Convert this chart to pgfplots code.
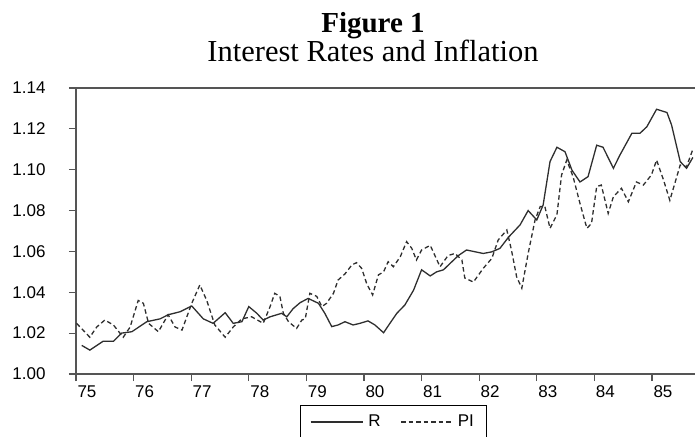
\documentclass[border=0pt]{standalone}
\usepackage{pgfplots}
\pgfplotsset{compat=1.18}
\usepackage{fontspec}
\setmainfont{Liberation Serif}
\newfontfamily\tickfont{Liberation Sans}
\usetikzlibrary{calc}

\definecolor{lineclr}{HTML}{2E2E2E}
\definecolor{axclr}{HTML}{555555}

\pgfplotstableread{
x y
75.10 1.0140
75.24 1.0117
75.47 1.0160
75.65 1.0160
75.79 1.0200
75.97 1.0207
76.23 1.0256
76.46 1.0270
76.60 1.0290
76.81 1.0305
77.01 1.0333
77.21 1.0270
77.38 1.0248
77.59 1.0300
77.73 1.0248
77.88 1.0256
78.00 1.0330
78.14 1.0297
78.25 1.0264
78.37 1.0280
78.57 1.0297
78.66 1.0280
78.77 1.0320
78.89 1.0349
79.03 1.0370
79.21 1.0346
79.32 1.0297
79.44 1.0232
79.55 1.0240
79.67 1.0256
79.81 1.0240
79.93 1.0248
80.07 1.0260
80.19 1.0240
80.34 1.0202
80.45 1.0248
80.57 1.0297
80.71 1.0338
80.86 1.0410
81.00 1.0510
81.15 1.0480
81.26 1.0500
81.38 1.0510
81.49 1.0540
81.64 1.0580
81.78 1.0607
82.07 1.0590
82.22 1.0598
82.36 1.0615
82.51 1.0670
82.71 1.0730
82.85 1.0800
83.00 1.0754
83.11 1.0827
83.23 1.1040
83.35 1.1110
83.49 1.1088
83.61 1.0998
83.75 1.0940
83.89 1.0966
84.04 1.1120
84.15 1.1110
84.33 1.1007
84.44 1.1070
84.65 1.1178
84.79 1.1178
84.91 1.1210
85.08 1.1296
85.26 1.1280
85.34 1.1219
85.49 1.1040
85.60 1.1007
85.71 1.1060
}\rdata

\pgfplotstableread{
x y
75.01 1.0248
75.24 1.0180
75.36 1.0230
75.50 1.0264
75.65 1.0240
75.82 1.0180
75.94 1.0230
76.08 1.0360
76.17 1.0346
76.26 1.0248
76.43 1.0207
76.60 1.0290
76.72 1.0230
76.84 1.0215
77.01 1.0346
77.15 1.0436
77.27 1.0360
77.41 1.0240
77.59 1.0180
77.73 1.0230
77.88 1.0270
78.05 1.0280
78.25 1.0248
78.37 1.0330
78.45 1.0395
78.54 1.0380
78.60 1.0297
78.69 1.0256
78.83 1.0223
78.92 1.0264
78.98 1.0270
79.06 1.0395
79.18 1.0380
79.27 1.0330
79.35 1.0346
79.47 1.0395
79.55 1.0460
79.67 1.0490
79.79 1.0534
79.87 1.0545
79.96 1.0517
80.05 1.0440
80.15 1.0387
80.25 1.0485
80.34 1.0500
80.42 1.0550
80.51 1.0525
80.63 1.0574
80.74 1.0648
80.83 1.0615
80.91 1.0558
81.00 1.0607
81.15 1.0630
81.32 1.0525
81.46 1.0580
81.58 1.0590
81.70 1.0558
81.75 1.0470
81.90 1.0450
82.07 1.0517
82.22 1.0566
82.33 1.0656
82.48 1.0705
82.56 1.0607
82.65 1.0476
82.74 1.0420
82.85 1.0590
82.97 1.0754
83.06 1.0820
83.14 1.0820
83.23 1.0713
83.35 1.0780
83.43 1.0974
83.52 1.1047
83.63 1.0966
83.75 1.0835
83.87 1.0713
83.95 1.0737
84.04 1.0917
84.12 1.0925
84.24 1.0786
84.33 1.0868
84.47 1.0909
84.59 1.0843
84.73 1.0940
84.85 1.0925
84.99 1.0974
85.08 1.1047
85.20 1.0950
85.31 1.0850
85.49 1.1023
85.60 1.1015
85.71 1.1100
}\pidata

\begin{document}
\begin{tikzpicture}
\begin{axis}[
    scale only axis,
    width=619pt,
    height=286pt,
    xmin=75, xmax=85.747,
    ymin=1.00, ymax=1.14,
    axis x line*=box,
    axis y line*=left,
    axis line style={axclr, line width=1.4pt},
    xtick={75,76,...,85},
    ytick={1.00,1.02,...,1.14},
    xtick pos=bottom,
    ytick pos=left,
    tick align=outside,
    major tick length=7pt,
    tick style={axclr, line width=1.2pt},
    xticklabel style={anchor=north west, xshift=-2pt, yshift=-1pt},
    xticklabel={\pgfmathprintnumber[int detect]{\tick}},
    yticklabel style={xshift=-20pt, /pgf/number format/fixed, /pgf/number format/fixed zerofill, /pgf/number format/precision=2},
    /pgf/number format/assume math mode=true,
    ticklabel style={font=\tickfont\fontsize{17}{20}\selectfont, text=black},
    legend style={at={(rel axis cs:0.512,-0.108)}, anchor=north,
        draw=black, line width=0.8pt, font=\tickfont\fontsize{17}{20}\selectfont,
        inner xsep=10pt, inner ysep=8pt, legend columns=2,
        /tikz/every even column/.append style={column sep=18pt}},
    legend image code/.code={\draw[#1] (0pt,0pt) -- (52pt,0pt);},
    legend cell align=left,
]
\addplot[lineclr, line width=1.3pt] table[x=x, y=y] {\rdata};
\addlegendentry{\hspace{3pt}R}
\addplot[lineclr, line width=1.3pt, dash pattern=on 4.5pt off 3pt] table[x=x, y=y] {\pidata};
\addlegendentry{\hspace{2pt}PI\hspace{16pt}}
\coordinate (ll) at (rel axis cs:0,0);
\end{axis}
\node[anchor=base, font=\bfseries\fontsize{29}{34}\selectfont] at ($(ll)+(297pt,341pt)$) {Figure 1};
\node[anchor=base, font=\fontsize{30.5}{36}\selectfont] at ($(ll)+(297pt,312pt)$) {Interest Rates and Inflation};
\pgfresetboundingbox
\path[use as bounding box] ($(ll)+(-76pt,-62pt)$) rectangle ($(ll)+(619pt,374pt)$);
\end{tikzpicture}
\end{document}
